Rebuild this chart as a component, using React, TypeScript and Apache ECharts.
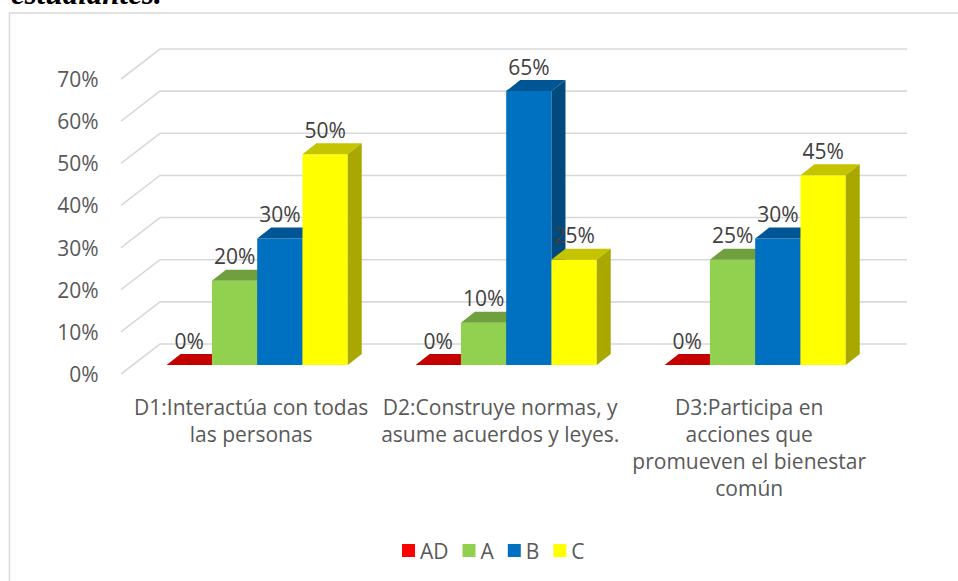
import React, { useEffect, useRef } from "react";
import * as echarts from "echarts";

const categories = [
  "D1:Interactúa con todas\nlas personas",
  "D2:Construye normas, y\nasume acuerdos y leyes.",
  "D3:Participa en\nacciones que\npromueven el bienestar\ncomún",
];
const seriesNames = ["AD", "A", "B", "C"];
const valuesAD = [0, 0, 0];
const valuesA = [20, 10, 25];
const valuesB = [30, 65, 30];
const valuesC = [50, 25, 45];
const seriesValues = [valuesAD, valuesA, valuesB, valuesC];
const yTicks = [0, 10, 20, 30, 40, 50, 60, 70];
const colors = ["#FF0000", "#92D050", "#0070C0", "#FFFF00"];
const titleText = "estudiantes.";

const FONT = '"Open Sans", "Liberation Sans", sans-serif';
const DX = 14;
const DY = -11;

function shade(hex: string, f: number): string {
  const n = parseInt(hex.slice(1), 16);
  const r = Math.round(((n >> 16) & 255) * f);
  const g = Math.round(((n >> 8) & 255) * f);
  const b = Math.round((n & 255) * f);
  return `rgb(${r},${g},${b})`;
}

const makeBarRender = (si: number) => (params: any, api: any) => {
  const ci = api.value(0);
  const v = api.value(1);
  const base = api.coord([ci, 0]);
  const top = api.coord([ci, v]);
  const catW = api.size([1, 0])[0];
  const bw = catW / (seriesNames.length + 1.5);
  const x0 = base[0] - (seriesNames.length / 2) * bw + si * bw;
  const ty = top[1];
  const by = base[1];
  const c = colors[si];
  return {
    type: "group",
    children: [
      {
        type: "rect",
        shape: { x: x0, y: ty, width: bw, height: by - ty },
        style: { fill: c },
      },
      {
        type: "polygon",
        shape: {
          points: [
            [x0, ty],
            [x0 + DX, ty + DY],
            [x0 + bw + DX, ty + DY],
            [x0 + bw, ty],
          ],
        },
        style: { fill: shade(c, 0.77) },
      },
      {
        type: "polygon",
        shape: {
          points: [
            [x0 + bw, ty],
            [x0 + bw + DX, ty + DY],
            [x0 + bw + DX, by + DY],
            [x0 + bw, by],
          ],
        },
        style: { fill: shade(c, 0.66) },
      },
      {
        type: "text",
        style: {
          text: v + "%",
          x: x0 + bw / 2,
          y: ty - 24.5,
          align: "center",
          verticalAlign: "middle",
          font: `21px ${FONT}`,
          fill: "#404040",
        },
      },
    ],
  };
};

const gridRender = (params: any, api: any) => {
  const p = api.coord([0, api.value(1)]);
  const cs = params.coordSys;
  const x0 = cs.x;
  const x1 = cs.x + cs.width;
  const y = p[1];
  return {
    type: "polyline",
    shape: {
      points: [
        [x0 - 11.7, y + 9],
        [x0 + 27.3, y - 21],
        [x1 + 27.3, y - 21],
      ],
    },
    style: { stroke: "#D9D9D9", lineWidth: 1.6, fill: "none" },
  };
};

export default function App() {
  const ref = useRef<HTMLDivElement>(null);
  useEffect(() => {
    if (!ref.current) return;
    const chart = echarts.init(ref.current, undefined, { renderer: "svg" });
    const option: any = {
      animation: false,
      backgroundColor: "#ffffff",
      grid: { left: 132.7, right: 78.3, top: 70, bottom: 216, containLabel: false },
      graphic: [
        {
          type: "rect",
          shape: { x: 9.5, y: 13, width: 1000, height: 1000 },
          style: { fill: "none", stroke: "#D9D9D9", lineWidth: 1.5 },
          silent: true,
        },
        {
          type: "text",
          x: 11,
          y: 9,
          style: {
            text: titleText,
            font: 'italic bold 31px "Liberation Serif", "Times New Roman", serif',
            fill: "#000000",
            verticalAlign: "bottom",
          },
        },
      ],
      legend: {
        data: seriesNames,
        left: 397,
        top: 535,
        icon: "rect",
        itemWidth: 13,
        itemHeight: 13,
        itemGap: 14,
        textStyle: { fontFamily: FONT, fontSize: 21, color: "#595959" },
      },
      xAxis: {
        type: "category",
        data: categories,
        axisLine: { show: false },
        axisTick: { show: false },
        splitLine: { show: false },
        axisLabel: {
          interval: 0,
          margin: 28.5,
          color: "#595959",
          fontFamily: FONT,
          fontSize: 21,
          lineHeight: 27,
          padding: [0, 12, 0, 0],
        },
      },
      yAxis: {
        type: "value",
        min: 0,
        max: 70,
        interval: 10,
        axisLine: { show: false },
        axisTick: { show: false },
        splitLine: { show: false },
        axisLabel: {
          formatter: "{value}%",
          margin: 34,
          color: "#595959",
          fontFamily: FONT,
          fontSize: 21,
          lineHeight: 18,
          verticalAlign: "top",
        },
      },
      series: [
        {
          type: "custom",
          name: "grid",
          z: 1,
          clip: false,
          renderItem: gridRender,
          data: yTicks.map((t) => [0, t]),
          encode: { x: 0, y: 1 },
          silent: true,
        },
        ...seriesNames.map((name, si) => ({
          type: "custom",
          name,
          z: 2,
          clip: false,
          itemStyle: { color: colors[si] },
          renderItem: makeBarRender(si),
          data: seriesValues[si].map((v, ci) => [ci, v]),
          encode: { x: 0, y: 1 },
        })),
      ],
    };
    chart.setOption(option);
    return () => chart.dispose();
  }, []);
  return (
    <div
      ref={ref}
      style={{ position: "fixed", left: 0, top: 0, width: 958, height: 581 }}
    />
  );
}
